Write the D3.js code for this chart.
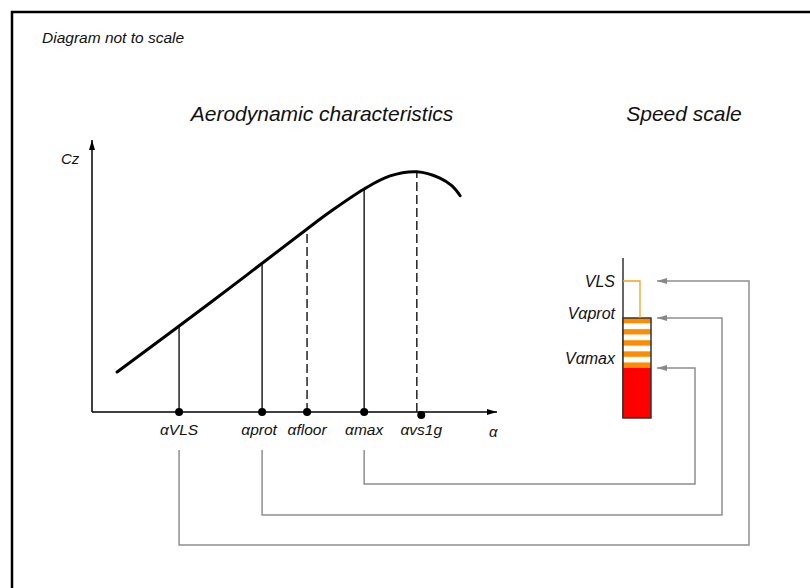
<!DOCTYPE html>
<html>
<head>
<meta charset="utf-8">
<script src="https://cdn.jsdelivr.net/npm/d3@7"></script>
<style>
  body { margin: 0; background: #fff; }
  text { font-family: "Liberation Sans", Arial, sans-serif; font-style: italic; fill: #111; }
</style>
</head>
<body>
<svg id="chart" width="810" height="588"></svg>
<script>
// curve Cz(alpha), arbitrary units (diagram not to scale)
var curveAlpha = [6.2, 29.6, 53.1, 58.8, 67.2, 73.6, 80.2, 85.9, 88.9, 90.9];
var curveCz    = [14.7, 40.6, 67.3, 73.6, 82.0, 86.8, 88.3, 86.0, 83.1, 79.5];

// characteristic angles
var alphaNames  = ["αVLS", "αprot", "αfloor", "αmax", "αvs1g"];
var alphaValues = [21.5, 42.0, 53.1, 67.2, 80.2];
var alphaDots   = [21.5, 42.0, 53.1, 67.2, 81.3];
var alphaCz     = [31.9, 54.9, 67.3, 82.0, 88.3];
var alphaDashed = [false, false, true, false, true];

// speed scale
var speedNames  = ["VLS", "Vαprot", "Vαmax"];
var speedValues = [137, 100, 50];
var speedLinkFrom = ["αVLS", "αprot", "αmax"];
var speedLinkDrop = [133, 103, 72];     // how far below the axis each link runs
var speedLinkRight = [749, 722, 695];

var svg = d3.select("#chart");

// frame
svg.append("path").attr("d", "M12,588 L12,12 L810,12")
    .attr("fill", "none").attr("stroke", "#000").attr("stroke-width", 2.5);

svg.append("text").attr("x", 42).attr("y", 43).style("font-size", "15.5px").text("Diagram not to scale");
svg.append("text").attr("x", 322).attr("y", 121).attr("text-anchor", "middle").style("font-size", "21px").text("Aerodynamic characteristics");
svg.append("text").attr("x", 684).attr("y", 121).attr("text-anchor", "middle").style("font-size", "21px").text("Speed scale");

var x = d3.scaleLinear().domain([0, 100]).range([92, 497]);
var y = d3.scaleLinear().domain([0, 100]).range([412, 140]);

var defs = svg.append("defs");
function arrow(id, color) {
  defs.append("marker").attr("id", id).attr("viewBox", "0 0 10 10")
      .attr("refX", 10).attr("refY", 5).attr("markerWidth", 10).attr("markerHeight", 10)
      .attr("markerUnits", "userSpaceOnUse").attr("orient", "auto")
    .append("path").attr("d", "M0,2 L10,5 L0,8 Z").attr("fill", color);
}
arrow("blk", "#000");
arrow("gry", "#888");

// axes
svg.append("line").attr("x1", x(0)).attr("y1", y(0)).attr("x2", x(0)).attr("y2", y(100))
    .attr("stroke", "#000").attr("stroke-width", 1.5).attr("marker-end", "url(#blk)");
svg.append("line").attr("x1", x(0)).attr("y1", y(0)).attr("x2", x(100)).attr("y2", y(0))
    .attr("stroke", "#000").attr("stroke-width", 1.5).attr("marker-end", "url(#blk)");
svg.append("text").attr("x", 61).attr("y", 164).style("font-size", "15px").text("Cz");
svg.append("text").attr("x", 489).attr("y", 437).style("font-size", "15px").text("α");

// verticals
alphaValues.forEach(function(a, i) {
  svg.append("line").attr("x1", x(a)).attr("x2", x(a)).attr("y1", y(0)).attr("y2", y(alphaCz[i]))
      .attr("stroke", "#222").attr("stroke-width", 1.5)
      .attr("stroke-dasharray", alphaDashed[i] ? "9,4" : null);
  svg.append("circle").attr("cx", x(alphaDots[i])).attr("cy", y(0) + (i == 4 ? 3 : 0)).attr("r", 4).attr("fill", "#000");
  svg.append("text").attr("x", x(alphaDots[i]) + (i == 1 ? -3 : 0)).attr("y", 435).attr("text-anchor", "middle")
      .style("font-size", "15.5px").text(alphaNames[i]);
});

// curve
var line = d3.line().x(function(d, i) { return x(d); }).y(function(d, i) { return y(curveCz[i]); })
    .curve(d3.curveCatmullRom.alpha(0.5));
svg.append("path").attr("d", line(curveAlpha)).attr("fill", "none")
    .attr("stroke", "#000").attr("stroke-width", 3).attr("stroke-linecap", "round");

// speed scale
var vy = d3.scaleLinear().domain([0, 160]).range([418, 258]);
var barX = 623, barW = 28;

svg.append("line").attr("x1", barX).attr("x2", barX).attr("y1", vy(0)).attr("y2", vy(160))
    .attr("stroke", "#333").attr("stroke-width", 1.5);

// stripes between Vαprot and Vαmax
var nBands = 9;
var bandH = (speedValues[1] - speedValues[2]) / nBands;
d3.range(nBands).forEach(function(k) {
  var top = speedValues[1] - k * bandH;
  svg.append("rect").attr("x", barX).attr("y", vy(top)).attr("width", barW)
      .attr("height", vy(top - bandH) - vy(top))
      .attr("fill", k % 2 == 0 ? "#ff8c00" : "#fff");
});
svg.append("rect").attr("x", barX).attr("y", vy(speedValues[2])).attr("width", barW)
    .attr("height", vy(0) - vy(speedValues[2])).attr("fill", "#ff0000");
svg.append("rect").attr("x", barX).attr("y", vy(speedValues[1])).attr("width", barW)
    .attr("height", vy(0) - vy(speedValues[1])).attr("fill", "none")
    .attr("stroke", "#333").attr("stroke-width", 1.5);

// VLS orange marker
svg.append("path")
    .attr("d", "M" + barX + "," + vy(speedValues[0]) + " H" + (barX + 17) + " V" + vy(speedValues[1]))
    .attr("fill", "none").attr("stroke", "#f5a020").attr("stroke-width", 1.3);

speedNames.forEach(function(n, i) {
  svg.append("text").attr("x", 615).attr("y", vy(speedValues[i]) + [6, 1, -4][i])
      .attr("text-anchor", "end").style("font-size", "16px").text(n);
});

// links
speedLinkFrom.forEach(function(n, i) {
  var ax = x(alphaValues[alphaNames.indexOf(n)]);
  var yb = y(0) + speedLinkDrop[i];
  var yr = vy(speedValues[i]);
  var xr = speedLinkRight[i];
  svg.append("path")
      .attr("d", "M" + ax + ",450 V" + yb + " H" + xr + " V" + yr + " H657")
      .attr("fill", "none").attr("stroke", "#8f8f8f").attr("stroke-width", 1.5)
      .attr("marker-end", "url(#gry)");
});
</script>
</body>
</html>
